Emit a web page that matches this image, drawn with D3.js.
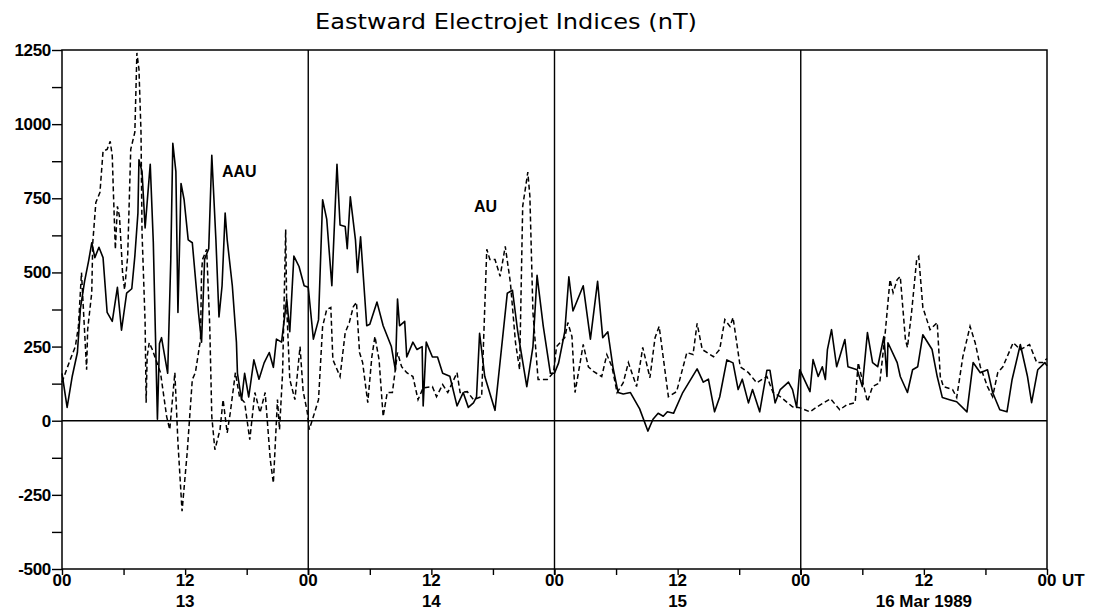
<!DOCTYPE html>
<html><head><meta charset="utf-8">
<script src="https://cdn.jsdelivr.net/npm/d3@7"></script>
<style>body{margin:0;background:#fff} svg{display:block}</style>
</head><body><svg id="c" width="1100" height="614"></svg>
<script>
// ---- data (hour since 00 UT 13 Mar 1989, nT) ----
const aauSeries = [[0,160],[0.5,45],[1.0,150],[1.5,230],[1.8,380],[2.2,470],[2.6,540],[2.9,600],[3.2,550],[3.6,585],[4.0,550],[4.4,365],[4.9,335],[5.4,450],[5.8,305],[6.3,430],[6.8,445],[7.1,555],[7.4,700],[7.5,880],[7.8,840],[8.1,650],[8.6,865],[8.9,600],[9.1,300],[9.3,5],[9.5,260],[9.7,280],[9.9,240],[10.3,160],[10.6,540],[10.8,935],[11.1,840],[11.3,365],[11.6,800],[11.9,745],[12.3,610],[12.7,600],[13.3,365],[13.6,265],[13.9,545],[14.3,580],[14.6,895],[15.0,610],[15.3,350],[15.6,455],[15.9,700],[16.1,610],[16.6,455],[17.0,265],[17.1,160],[17.5,70],[17.8,160],[18.2,80],[18.7,205],[19.2,140],[19.7,195],[20.2,230],[20.6,180],[20.9,275],[21.4,265],[21.9,410],[22.2,300],[22.6,555],[23.1,520],[23.6,455],[24.0,450],[24.5,275],[25.0,340],[25.4,745],[25.8,680],[26.3,455],[26.8,865],[27.1,660],[27.6,655],[27.8,580],[28.1,755],[28.6,610],[28.8,500],[29.1,620],[29.7,320],[30.0,325],[30.7,400],[31.3,320],[32.1,250],[32.5,170],[32.7,410],[32.9,320],[33.4,335],[33.6,215],[34.2,265],[34.6,240],[35.1,250],[35.2,50],[35.5,265],[36.1,215],[36.6,215],[37.1,160],[37.8,150],[38.5,50],[39.1,95],[39.6,45],[40.1,60],[40.4,80],[40.7,295],[41.2,150],[42.2,35],[43.4,430],[43.9,440],[44.4,305],[45.3,115],[45.9,250],[46.3,490],[46.9,320],[47.6,160],[48.0,160],[48.4,195],[49.0,300],[49.4,485],[49.8,370],[50.8,455],[51.5,275],[52.2,470],[52.7,280],[53.2,300],[53.7,180],[54.2,95],[54.7,90],[55.4,95],[56.3,40],[57.1,-35],[57.6,5],[58.1,25],[58.6,15],[59.0,30],[59.6,25],[60.5,95],[61.9,175],[62.5,130],[63.0,140],[63.6,30],[64.1,80],[64.8,205],[65.4,195],[65.9,105],[66.3,140],[66.9,60],[67.3,105],[68.0,30],[68.7,170],[69.0,170],[69.5,60],[70.0,105],[70.8,130],[71.2,105],[71.6,45],[71.9,172],[72.9,98],[73.2,206],[73.7,149],[74.1,182],[74.4,139],[74.6,240],[75.0,307],[75.5,182],[75.8,216],[76.3,274],[76.6,182],[77.5,172],[78.0,115],[78.5,297],[79.0,196],[79.5,182],[80.1,284],[80.4,149],[80.5,263],[81.4,196],[81.7,149],[82.4,95],[82.9,172],[83.4,182],[83.9,290],[84.8,240],[85.3,149],[85.8,78],[86.5,71],[87.2,64],[88.2,30],[88.8,196],[89.5,162],[90.2,172],[90.7,95],[91.4,37],[92.1,30],[92.6,139],[93.4,257],[94.1,149],[94.5,61],[95.1,172],[95.8,196],[96.0,185]];

const auSeries = [[0,130],[0.8,206],[1.3,250],[1.6,318],[1.9,500],[2.0,432],[2.4,172],[2.5,307],[2.9,432],[3.0,601],[3.3,736],[3.7,770],[4.0,909],[4.4,915],[4.7,942],[4.9,892],[5.0,780],[5.2,578],[5.4,723],[5.6,689],[5.8,567],[5.9,500],[6.1,442],[6.4,554],[6.7,915],[7.1,973],[7.3,1240],[7.5,1186],[7.7,973],[7.8,635],[8.1,331],[8.2,61],[8.3,216],[8.5,263],[8.8,240],[9.6,162],[10.2,14],[10.5,-30],[11.0,162],[11.3,-74],[11.7,-305],[12.2,-108],[12.7,139],[13.0,162],[13.5,274],[13.6,500],[13.7,544],[14.1,578],[14.4,318],[14.6,14],[14.9,-98],[15.4,-30],[15.7,71],[16.1,-41],[16.4,27],[16.9,162],[17.3,81],[17.8,61],[18.3,-64],[18.8,95],[19.3,27],[19.8,95],[20.3,-132],[20.6,-210],[21.0,71],[21.2,-30],[21.5,162],[21.8,645],[21.9,385],[22.2,139],[22.7,71],[23.2,250],[23.5,100],[23.9,30],[24.1,-30],[24.5,14],[25.0,71],[25.4,318],[25.8,375],[26.2,382],[26.4,206],[27.1,149],[27.6,297],[28.0,331],[28.4,385],[28.7,399],[29.0,230],[29.3,196],[29.8,61],[30.2,216],[30.5,284],[30.9,206],[31.3,14],[31.7,95],[32.2,95],[32.7,230],[33.1,182],[33.6,162],[34.2,149],[34.7,71],[35.2,111],[36.1,115],[36.5,81],[37.1,122],[37.6,95],[38.5,162],[38.8,95],[39.5,98],[40.1,71],[40.9,81],[41.4,578],[41.7,544],[42.2,544],[42.7,487],[43.2,588],[43.7,466],[44.2,263],[44.6,172],[44.9,723],[45.4,838],[45.6,757],[45.9,365],[46.4,139],[47.3,139],[47.9,162],[48.2,250],[49.0,280],[49.3,331],[49.7,284],[50.0,95],[50.8,257],[51.3,182],[51.8,166],[52.6,149],[53.1,223],[53.6,182],[54.1,95],[54.7,128],[55.2,196],[56.0,115],[56.6,247],[57.3,145],[57.8,280],[58.2,318],[59.1,81],[59.9,98],[60.9,230],[61.5,223],[61.9,328],[62.4,240],[63.5,216],[64.1,240],[64.6,341],[65.1,318],[65.4,348],[66.1,182],[66.9,162],[67.7,128],[68.7,149],[69.3,95],[70.0,81],[70.7,61],[71.2,47],[71.9,44],[72.9,30],[73.6,47],[74.9,74],[75.8,37],[76.5,54],[77.3,61],[77.6,196],[78.5,64],[79.0,115],[79.7,128],[80.2,284],[80.7,476],[81.0,432],[81.4,476],[81.7,486],[82.2,274],[82.4,247],[82.8,365],[83.3,544],[83.5,554],[83.9,382],[84.6,307],[85.3,331],[85.6,149],[85.9,115],[86.8,105],[87.2,78],[87.8,216],[88.5,318],[89.0,263],[89.5,182],[90.2,115],[90.7,81],[91.2,162],[91.7,182],[92.7,263],[93.4,240],[94.3,257],[95.0,196],[95.6,196],[96.0,210]];

const yTickValues = [-500,-375,-250,-125,0,125,250,375,500,625,750,875,1000,1125,1250];
const yLabelValues = [-500,-250,0,250,500,750,1000,1250];
const xTickHours = [0,6,12,18,24,30,36,42,48,54,60,66,72,78,84,90,96];
const dayBoundaryHours = [24,48,72];
const dayLabels = ["13","14","15","16 Mar 1989"];
const titleText = "Eastward Electrojet Indices (nT)";

// ---- drawing ----
const svg = d3.select("#c");
const L = 62, R = 1047, T = 50, B = 569;
const x = d3.scaleLinear().domain([0,96]).range([L,R]);
const y = d3.scaleLinear().domain([-500,1250]).range([B,T]);
const lblFont = "'Liberation Sans', Arial, sans-serif";

svg.append("rect").attr("width",1100).attr("height",614).attr("fill","#fff");

svg.append("text").attr("x",506).attr("y",29).attr("text-anchor","middle")
  .attr("font-family","'DejaVu Sans', sans-serif").attr("font-size",21)
  .attr("textLength",382).attr("lengthAdjust","spacingAndGlyphs")
  .text(titleText);

// y axis
const yAxis = d3.axisLeft(y).tickValues(yTickValues).tickSize(10).tickPadding(1)
  .tickFormat(d => yLabelValues.includes(d) ? d : "");
const gy = svg.append("g").attr("transform",`translate(${L},0)`).call(yAxis);
gy.select(".domain").remove();
gy.selectAll("line").attr("stroke","#000").attr("stroke-width",1.4);
gy.selectAll("text").attr("font-family",lblFont).attr("font-weight","bold")
  .attr("font-size",17).attr("fill","#000").attr("letter-spacing","-0.3");

// x axis ticks
const xAxis = d3.axisBottom(x).tickValues(xTickHours).tickSize(6).tickFormat("");
const gx = svg.append("g").attr("transform",`translate(0,${B})`).call(xAxis);
gx.select(".domain").remove();
gx.selectAll("line").attr("stroke","#000").attr("stroke-width",1.4);

// hour labels
xTickHours.filter(h => h % 12 === 0).forEach(h => {
  svg.append("text").attr("x",x(h)).attr("y",586).attr("text-anchor","middle")
    .attr("font-family",lblFont).attr("font-weight","bold").attr("font-size",17)
    .text(h % 24 === 0 ? "00" : "12");
});
svg.append("text").attr("x",x(96)+15).attr("y",586)
  .attr("font-family",lblFont).attr("font-weight","bold").attr("font-size",17).text("UT");
dayLabels.forEach((d,i) => {
  svg.append("text").attr("x",x(i*24+12)).attr("y",607).attr("text-anchor","middle")
    .attr("font-family",lblFont).attr("font-weight","bold").attr("font-size",17).text(d);
});

// frame, zero line, day lines
svg.append("rect").attr("x",L).attr("y",T).attr("width",R-L).attr("height",B-T)
  .attr("fill","none").attr("stroke","#000").attr("stroke-width",1.5);
svg.append("line").attr("x1",L).attr("x2",R).attr("y1",y(0)).attr("y2",y(0))
  .attr("stroke","#000").attr("stroke-width",1.4);
dayBoundaryHours.forEach(h => {
  svg.append("line").attr("x1",x(h)).attr("x2",x(h)).attr("y1",T).attr("y2",B+6)
    .attr("stroke","#000").attr("stroke-width",1.4);
});

// series
const line = d3.line().x(d => x(d[0])).y(d => y(d[1]));
svg.append("path").datum(aauSeries).attr("d",line).attr("fill","none")
  .attr("stroke","#000").attr("stroke-width",1.6).attr("stroke-linejoin","round");
svg.append("path").datum(auSeries).attr("d",line).attr("fill","none")
  .attr("stroke","#000").attr("stroke-width",1.5).attr("stroke-dasharray","5,3");

// annotations
svg.append("text").attr("x",222).attr("y",177).attr("font-family",lblFont)
  .attr("font-weight","bold").attr("font-size",16).text("AAU");
svg.append("text").attr("x",474).attr("y",212).attr("font-family",lblFont)
  .attr("font-weight","bold").attr("font-size",16).text("AU");
</script></body></html>
